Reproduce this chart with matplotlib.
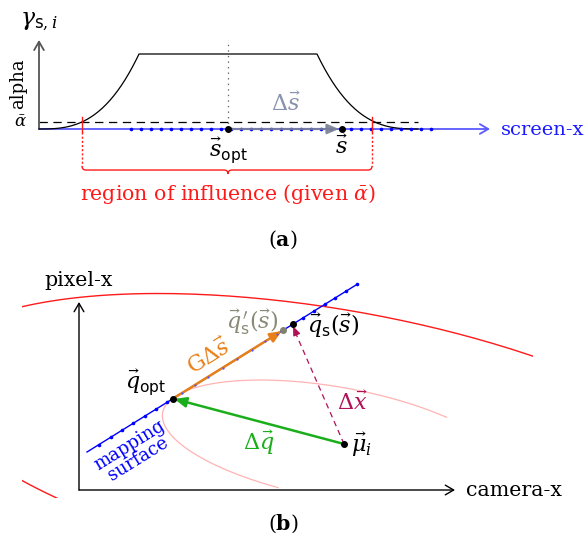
import numpy as np
import matplotlib

matplotlib.use("Agg")
import matplotlib.pyplot as plt
from matplotlib.path import Path
from matplotlib.patches import PathPatch, Rectangle

plt.rcParams["font.family"] = "DejaVu Serif"
plt.rcParams["mathtext.fontset"] = "dejavuserif"
plt.rcParams["lines.scale_dashes"] = False

# ---- panel (a): screen-x in px from the axis origin, gamma scaled so the plateau is 1
SAMPLES_X = [92, 102, 112, 122, 132, 142, 152, 162, 172, 182, 192, 202, 212, 222, 232,
             242, 252, 262, 272, 282, 292, 302, 312, 322, 332, 342, 352, 362, 372, 382, 392]
S_OPT = 189
S_VEC = 303
ALPHA_BAR = 0.093
RISE = (0, 100)
FALL = (278, 379)
EDGE_POWER = 2.8
REGION = (43, 333)
AXIS_TOP = 1.187
SCREEN_END = 451

# ---- panel (b): camera-x / pixel-x in px from the axis origin
MAP_START = (8, 38)
MAP_END = (277, 205)
MAP_DOTS_X = [20, 32, 43, 54, 66, 77, 88, 224, 235, 246, 256, 267, 278]
MAP_DOTS_MID_X = [103, 116, 129, 144, 158, 173, 186, 198]
Q_OPT_X = 94
Q_LIN_X = 204
Q_S_X = 214
MU = (265, 46)
ELL_CENTER = (256, 47)
ELL_ANGLE = -10
PINK_AXES = (175, 56)
PINK_T = (53, 254)
RED_AXES = (415, 133)
RED_CLIP = (-57, -8, 511, 240)
CAM_END = 376
PIX_END = 188

fig = plt.figure(figsize=(5.86, 5.41), dpi=100)
ax_a = fig.add_axes([0, 1 - 260 / 541, 1, 260 / 541])
ax_b = fig.add_axes([0, 0, 1, 281 / 541])
ax_a.set_xlim(-39, 547)
ax_a.set_ylim(-131 / 75, 129 / 75)
ax_b.set_xlim(-79, 507)
ax_b.set_ylim(-51, 230)
for ax in (ax_a, ax_b):
    ax.axis("off")

FS = 14.8    # plain text
MS = 16      # math labels
px = 1 / 75  # one pixel in gamma units

# ---------------- panel (a)
x_rise = np.linspace(RISE[0], RISE[1], 80)
g_rise = ((x_rise - RISE[0]) / (RISE[1] - RISE[0])) ** EDGE_POWER
x_fall = np.linspace(FALL[0], FALL[1], 80)
g_fall = ((FALL[1] - x_fall) / (FALL[1] - FALL[0])) ** EDGE_POWER
ax_a.plot(np.r_[x_rise, x_fall], np.r_[g_rise, g_fall], color="black", lw=0.9, zorder=3)

ax_a.plot([0, FALL[1]], [ALPHA_BAR, ALPHA_BAR], color="black", lw=0.9,
          linestyle=(0, (6, 4)), zorder=2)
ax_a.plot([S_OPT, S_OPT], [0, AXIS_TOP], color="#666666", lw=0.9,
          linestyle=(0, (1, 3)), zorder=2)

ax_a.annotate("", xy=(SCREEN_END, 0), xytext=(0, 0),
              arrowprops=dict(arrowstyle="->,head_length=0.6,head_width=0.35",
                              color="#5a5aff", lw=1.3, shrinkA=0, shrinkB=0), zorder=2)
ax_a.annotate("", xy=(0, AXIS_TOP), xytext=(0, 0),
              arrowprops=dict(arrowstyle="->,head_length=0.6,head_width=0.35",
                              color="#555555", lw=1.3, shrinkA=0, shrinkB=0), zorder=2)

ax_a.plot(SAMPLES_X, np.zeros(len(SAMPLES_X)), "o", color="#0000ff", ms=2.6,
          mec="none", zorder=3)
ax_a.annotate("", xy=(S_VEC - 3, 0), xytext=(S_OPT, 0),
              arrowprops=dict(arrowstyle="-|>,head_length=0.7,head_width=0.3",
                              color="#7a8096", lw=1.6, alpha=0.85, shrinkA=0, shrinkB=0),
              zorder=4)
ax_a.plot([S_OPT, S_VEC], [0, 0], "o", color="black", ms=4, zorder=5)

red = "#ff1a1a"
for xr in REGION:
    ax_a.plot([xr, xr], [0.16, -0.04], color=red, lw=1.0, zorder=4)
    ax_a.plot([xr, xr], [-0.04, -0.547 + 4 * px], color=red, lw=1.0,
              linestyle=(0, (1.5, 1.5)), zorder=4)
gb, r = -0.547, 4
xl, xc, xr = REGION[0], S_OPT, REGION[1]
verts = [(xl, gb + r * px), (xl, gb), (xl + r, gb),
         (xc - r, gb), (xc, gb), (xc, gb - r * px),
         (xc, gb), (xc + r, gb),
         (xr - r, gb), (xr, gb), (xr, gb + r * px)]
codes = [Path.MOVETO, Path.CURVE3, Path.CURVE3,
         Path.LINETO, Path.CURVE3, Path.CURVE3,
         Path.CURVE3, Path.CURVE3,
         Path.LINETO, Path.CURVE3, Path.CURVE3]
ax_a.add_patch(PathPatch(Path(verts, codes), fill=False, edgecolor=red, lw=1.0))

ax_a.text(0, 1.44, r"$\gamma_{\mathsf{s},i}$", fontsize=17, ha="center", va="center")
ax_a.text(-21, 0.6, "alpha", fontsize=13, rotation=90, ha="center", va="center")
ax_a.text(-19, ALPHA_BAR, r"$\bar{\alpha}$", fontsize=12, ha="center", va="center")
ax_a.text(247, 0.33, r"$\Delta\vec{s}$", fontsize=MS, color="#8891ad",
          ha="center", va="center")
ax_a.text(S_OPT, -0.29, r"$\vec{s}_{\mathsf{opt}}$", fontsize=MS, ha="center", va="center")
ax_a.text(S_VEC, -0.25, r"$\vec{s}$", fontsize=MS, ha="center", va="center")
ax_a.text(462, -0.01, "screen-x", fontsize=14, color="#1a1aff", ha="left", va="center")
ax_a.text(S_OPT, -0.86, r"region of influence (given $\bar{\alpha}$)", fontsize=FS,
          color=red, ha="center", va="center")
ax_a.text(244, -1.48, r"($\mathbf{a}$)", fontsize=FS, ha="center", va="center")

# ---------------- panel (b)
def on_line(x):
    (x0, y0), (x1, y1) = MAP_START, MAP_END
    return y0 + (x - x0) * (y1 - y0) / (x1 - x0)


def ellipse(ab, t0, t1):
    t = np.radians(np.linspace(t0, t1, 400))
    th = np.radians(ELL_ANGLE)
    a, b = ab
    x = ELL_CENTER[0] + a * np.cos(t) * np.cos(th) - b * np.sin(t) * np.sin(th)
    y = ELL_CENTER[1] + a * np.cos(t) * np.sin(th) + b * np.sin(t) * np.cos(th)
    return x, y


ex, ey = ellipse(RED_AXES, 0, 360)
big, = ax_b.plot(ex, ey, color=red, lw=1.0, zorder=1)
big.set_clip_path(Rectangle(RED_CLIP[:2], RED_CLIP[2], RED_CLIP[3], transform=ax_b.transData))
ex, ey = ellipse(PINK_AXES, *PINK_T)
ax_b.plot(ex, ey, color="#ffb3b3", lw=0.9, zorder=1)

ax_b.annotate("", xy=(CAM_END, 0), xytext=(0, 0),
              arrowprops=dict(arrowstyle="->,head_length=0.6,head_width=0.35",
                              color="black", lw=1.0, shrinkA=0, shrinkB=0))
ax_b.annotate("", xy=(0, PIX_END), xytext=(0, 0),
              arrowprops=dict(arrowstyle="->,head_length=0.6,head_width=0.35",
                              color="black", lw=1.0, shrinkA=0, shrinkB=0))

ax_b.plot([MAP_START[0], MAP_END[0]], [MAP_START[1], MAP_END[1]], color="#0000ff",
          lw=1.0, zorder=2)
ax_b.plot(MAP_DOTS_X, [on_line(x) for x in MAP_DOTS_X], "o", color="#0000ff", ms=2.6,
          mec="none", zorder=3)

q_opt = (Q_OPT_X, on_line(Q_OPT_X))
q_lin = (Q_LIN_X, on_line(Q_LIN_X))
q_s = (Q_S_X, on_line(Q_S_X))

ax_b.annotate("", xy=q_lin, xytext=q_opt,
              arrowprops=dict(arrowstyle="-|>,head_length=0.7,head_width=0.3",
                              color="#e8801a", lw=1.8, shrinkA=0, shrinkB=1), zorder=4)
ax_b.plot(MAP_DOTS_MID_X, [on_line(x) for x in MAP_DOTS_MID_X], "o", color="#5050ff",
          ms=1.6, mec="none", zorder=5)
ax_b.annotate("", xy=q_opt, xytext=MU,
              arrowprops=dict(arrowstyle="-|>,head_length=0.7,head_width=0.3",
                              color="#1aaf1a", lw=1.8, shrinkA=0, shrinkB=1), zorder=4)
purple = "#b01258"
ax_b.plot([MU[0], q_s[0]], [MU[1], q_s[1] - 3], color=purple, lw=0.9,
          linestyle=(0, (4, 3)), zorder=4)
ax_b.annotate("", xy=(q_s[0], q_s[1] - 2), xytext=(q_s[0] + 2.6, q_s[1] - 8),
              arrowprops=dict(arrowstyle="-|>,head_length=0.55,head_width=0.22",
                              color=purple, lw=0.9, shrinkA=0, shrinkB=0), zorder=4)

ax_b.plot(*q_lin, "o", color="#808070", ms=4, zorder=6)
ax_b.plot([q_opt[0], q_s[0], MU[0]], [q_opt[1], q_s[1], MU[1]], "o", color="black",
          ms=4, zorder=6)

ang = np.degrees(np.arctan2(MAP_END[1] - MAP_START[1], MAP_END[0] - MAP_START[0]))
ax_b.text(0, 209, "pixel-x", fontsize=FS, ha="center", va="center")
ax_b.text(387, 0, "camera-x", fontsize=FS, ha="left", va="center")
ax_b.text(67, 107, r"$\vec{q}_{\mathsf{opt}}$", fontsize=MS, ha="center", va="center")
ax_b.text(131, 133, r"$\mathrm{G}\Delta\vec{s}$", fontsize=MS, color="#e8801a",
          rotation=ang, ha="center", va="center", rotation_mode="anchor")
ax_b.text(173, 168, r"$\vec{q}^{\,\prime}_{\mathsf{s}}(\vec{s})$", fontsize=MS,
          color="#8a8a78", ha="center", va="center")
ax_b.text(228, 164, r"$\vec{q}_{\mathsf{s}}(\vec{s})$", fontsize=MS, ha="left", va="center")
ax_b.text(273, 87, r"$\Delta\vec{x}$", fontsize=MS, color=purple, ha="center", va="center")
ax_b.text(272, 45, r"$\vec{\mu}_i$", fontsize=MS, ha="left", va="center")
ax_b.text(180, 47, r"$\Delta\vec{q}$", fontsize=MS, color="#1aaf1a", ha="center", va="center")
ax_b.text(55, 38, "mapping\nsurface", fontsize=13, color="#0000ff", rotation=ang,
          ha="center", va="center", rotation_mode="anchor", linespacing=0.85)
ax_b.text(204, -34, r"($\mathbf{b}$)", fontsize=FS, ha="center", va="center")

fig.savefig("out.png", dpi=100)
